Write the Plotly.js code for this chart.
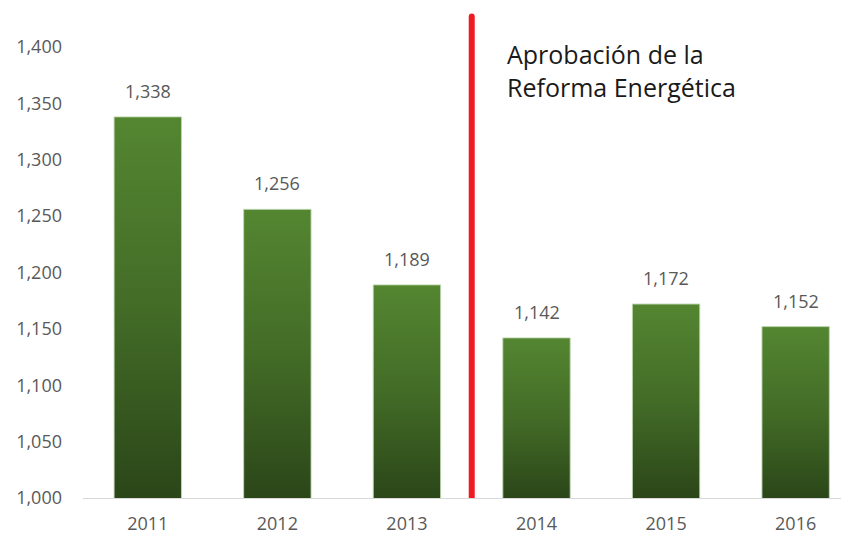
<!DOCTYPE html>
<html>
<head>
<meta charset="utf-8">
<script src="https://cdn.plot.ly/plotly-3.0.1.min.js"></script>
<style>html,body{margin:0;padding:0;background:#fff;}#chart{width:841px;height:535px;}</style>
</head>
<body>
<div id="chart"></div>
<script>
const years = ['2011','2012','2013','2014','2015','2016'];
const values = [1338, 1256, 1189, 1142, 1172, 1152];
const yTicks = [1000, 1050, 1100, 1150, 1200, 1250, 1300, 1350, 1400];
const noteText = 'Aprobación de la<br>Reforma Energética';

const FONT = 'Open Sans, Liberation Sans, sans-serif';
const GREY = '#595959';

const trace = {
  type: 'bar',
  x: years,
  y: values,
  width: 0.52,
  marker: {color: '#456f28', line: {color: 'rgba(190,215,175,0.9)', width: 1}},
  hoverinfo: 'none'
};

const labelAnnotations = years.map((yr, i) => ({
  x: i, y: values[i], xref: 'x', yref: 'y',
  text: values[i].toLocaleString('en-US'),
  showarrow: false, yanchor: 'bottom', yshift: 12,
  font: {family: FONT, size: 18, color: GREY}
}));

const layout = {
  width: 841, height: 535,
  margin: {l: 83, r: 0, t: 10, b: 37},
  paper_bgcolor: '#fff', plot_bgcolor: '#fff',
  showlegend: false,
  xaxis: {
    type: 'category',
    range: [-0.5, 5.35],
    showline: true, linecolor: '#d9d9d9', linewidth: 1,
    showgrid: false, zeroline: false, ticks: '',
    ticklabelstandoff: 9,
    tickfont: {family: FONT, size: 18, color: GREY}
  },
  yaxis: {
    range: [1000, 1432.8],
    tickvals: yTicks,
    ticktext: yTicks.map(v => v.toLocaleString('en-US')),
    showgrid: false, zeroline: false, showline: false, ticks: '',
    ticklabelstandoff: 20,
    tickfont: {family: FONT, size: 18, color: GREY}
  },
  shapes: [{
    type: 'line', xref: 'x', yref: 'y',
    x0: 2.5, x1: 2.5, y0: 1000, y1: 1427,
    line: {color: '#ed1c24', width: 6}
  }],
  annotations: labelAnnotations.concat([{
    xref: 'x', yref: 'y', x: 2.76, y: 1411,
    xanchor: 'left', yanchor: 'top', align: 'left',
    text: noteText, showarrow: false,
    font: {family: FONT, size: 25, color: '#1a1a1a'}
  }])
};

Plotly.newPlot('chart', [trace], layout, {displayModeBar: false, staticPlot: true}).then(gd => {
  const svg = gd.querySelector('svg.main-svg');
  const ns = 'http://www.w3.org/2000/svg';
  const defs = svg.querySelector('defs');
  const ya = gd._fullLayout.yaxis;
  const bottomPx = ya.l2p(ya.range[0]);
  const paths = gd.querySelectorAll('.bars .point path');
  paths.forEach((p, i) => {
    const topPx = ya.l2p(values[i]);
    const grad = document.createElementNS(ns, 'linearGradient');
    grad.setAttribute('id', 'barGrad' + i);
    grad.setAttribute('gradientUnits', 'userSpaceOnUse');
    grad.setAttribute('x1', '0'); grad.setAttribute('x2', '0');
    grad.setAttribute('y1', String(topPx)); grad.setAttribute('y2', String(bottomPx));
    [['0', '#548631'], ['0.5', '#436c27'], ['1', '#2b4619']].forEach(([o, c]) => {
      const s = document.createElementNS(ns, 'stop');
      s.setAttribute('offset', o); s.setAttribute('stop-color', c);
      grad.appendChild(s);
    });
    defs.appendChild(grad);
    p.style.fill = 'url(#barGrad' + i + ')';
  });
  gd.querySelectorAll('.shapelayer path').forEach(p => { p.style.strokeLinecap = 'round'; });
});
</script>
</body>
</html>
